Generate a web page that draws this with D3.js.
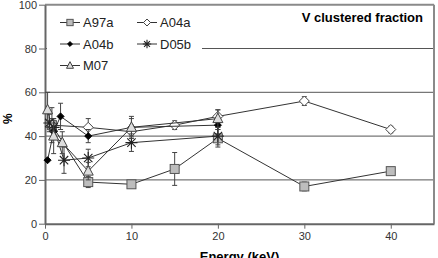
<!DOCTYPE html>
<html>
<head>
<meta charset="utf-8">
<script src="https://cdn.jsdelivr.net/npm/d3@7"></script>
<style>
  body { margin: 0; background: #fff; }
  svg { display: block; font-family: "Liberation Sans", Arial, sans-serif; }
</style>
</head>
<body>
<svg width="438" height="258"></svg>
<script>
// energies (keV), values (%), error half-widths
var eA97a = [0.8, 5, 10, 15, 20, 30, 40];
var vA97a = [45, 19, 18, 25, 39, 17, 24];
var errA97a = [8, 2.5, 1.5, 7.5, 4, 2, 0];

var eA04a = [0.8, 5, 10, 15, 20, 30, 40];
var vA04a = [45, 44, 42, 45, 49, 56, 43];
var errA04a = [3, 4, 3, 2, 3, 2, 1.5];

var eA04b = [0.3, 1, 1.8, 5, 10, 20];
var vA04b = [29, 42, 49, 40, 44, 45];
var errA04b = [0, 3, 6, 3, 4, 2];

var eD05b = [0.5, 1, 2.2, 5, 10, 20];
var vD05b = [46, 44, 29, 30, 37, 40];
var errD05b = [4, 4, 6, 4, 4, 4];

var eM07 = [0.3, 1, 2, 5, 10, 20];
var vM07 = [52, 40, 37, 24, 44, 48];
var errM07 = [8, 8, 5, 4, 5, 4];

var xTicks = [0, 10, 20, 30, 40];
var yTicks = [0, 20, 40, 60, 80, 100];
var gridVals = [20, 40, 60, 80];

var svg = d3.select("svg");
var plotL = 45, plotR = 434, plotT = 4.7, plotB = 223.7;

var x = d3.scaleLinear().domain([0, 45]).range([plotL, plotR]);
var y = d3.scaleLinear().domain([0, 100]).range([plotB, plotT]);

function zip(e, v, err) {
  return e.map(function(d, i) { return {x: d, y: v[i], err: err[i]}; });
}

var series = [
  {name: "A97a", data: zip(eA97a, vA97a, errA97a), sym: "square"},
  {name: "A04a", data: zip(eA04a, vA04a, errA04a), sym: "diamond"},
  {name: "A04b", data: zip(eA04b, vA04b, errA04b), sym: "dot"},
  {name: "D05b", data: zip(eD05b, vD05b, errD05b), sym: "star"},
  {name: "M07", data: zip(eM07, vM07, errM07), sym: "triangle"}
];

// gridlines
svg.append("g").selectAll("line").data(gridVals).enter().append("line")
  .attr("x1", plotL).attr("x2", plotR)
  .attr("y1", function(d) { return y(d); }).attr("y2", function(d) { return y(d); })
  .attr("stroke", "#555").attr("stroke-width", 1);

// frame top/right
svg.append("line").attr("x1", plotL).attr("x2", plotR).attr("y1", plotT).attr("y2", plotT)
  .attr("stroke", "#8a8a8a").attr("stroke-width", 2);
svg.append("line").attr("x1", plotR).attr("x2", plotR).attr("y1", plotT).attr("y2", plotB)
  .attr("stroke", "#8a8a8a").attr("stroke-width", 2);

// axes
var xAxis = svg.append("g")
  .attr("transform", "translate(0," + plotB + ")")
  .call(d3.axisBottom(x).tickValues(xTicks).tickSize(5).tickSizeOuter(0));
var yAxis = svg.append("g")
  .attr("transform", "translate(" + plotL + ",0)")
  .call(d3.axisLeft(y).tickValues(yTicks).tickSize(6).tickSizeOuter(0));
[xAxis, yAxis].forEach(function(a) {
  a.select(".domain").attr("stroke", "#666").attr("stroke-width", 2);
  a.selectAll(".tick line").attr("stroke", "#666");
  a.selectAll(".tick text").attr("fill", "#333").style("font-size", "11px")
    .style("font-family", "Liberation Sans, Arial, sans-serif");
});
yAxis.selectAll(".tick text").attr("x", -8);
xAxis.selectAll(".tick text").attr("y", 9);

// axis titles
svg.append("text")
  .attr("transform", "translate(12," + y(48) + ") rotate(-90)")
  .attr("text-anchor", "middle")
  .attr("font-weight", "bold").attr("font-size", 12)
  .text("%");
svg.append("text")
  .attr("x", x(22.5)).attr("y", 261)
  .attr("text-anchor", "middle")
  .attr("font-weight", "bold").attr("font-size", 13)
  .text("Energy (keV)");

// legend background
svg.append("rect").attr("x", 47).attr("y", 6).attr("width", 155).attr("height", 70)
  .attr("fill", "#fff");

var line = d3.line().x(function(d) { return x(d.x); }).y(function(d) { return y(d.y); });

function drawSymbol(g, sym, cx, cy, k) {
  k = k || 1;
  if (sym === "square") {
    g.append("rect").attr("x", cx - 4.5 * k).attr("y", cy - 4.5 * k).attr("width", 9 * k).attr("height", 9 * k)
      .attr("fill", "#bdbdbd").attr("stroke", "#555").attr("stroke-width", 1);
  } else if (sym === "diamond") {
    var a = 5 * k;
    g.append("path").attr("d", "M" + cx + "," + (cy - a) + "L" + (cx + a) + "," + cy + "L" + cx + "," + (cy + a) + "L" + (cx - a) + "," + cy + "Z")
      .attr("fill", "#fff").attr("stroke", "#444").attr("stroke-width", 1);
  } else if (sym === "dot") {
    var b = 3.5 * k;
    g.append("path").attr("d", "M" + cx + "," + (cy - b) + "L" + (cx + b) + "," + cy + "L" + cx + "," + (cy + b) + "L" + (cx - b) + "," + cy + "Z")
      .attr("fill", "#000").attr("stroke", "#000");
  } else if (sym === "star") {
    var r = 6 * k;
    var d = "M" + (cx - r) + "," + cy + "L" + (cx + r) + "," + cy +
      "M" + (cx - r * 0.7) + "," + (cy - r * 0.7) + "L" + (cx + r * 0.7) + "," + (cy + r * 0.7) +
      "M" + (cx - r * 0.7) + "," + (cy + r * 0.7) + "L" + (cx + r * 0.7) + "," + (cy - r * 0.7) +
      "M" + cx + "," + (cy - r) + "L" + cx + "," + (cy + r);
    g.append("path").attr("d", d).attr("stroke", "#222").attr("stroke-width", 1.1).attr("fill", "none");
  } else if (sym === "triangle") {
    g.append("path").attr("d", "M" + cx + "," + (cy - 5.5 * k) + "L" + (cx + 5 * k) + "," + (cy + 4 * k) + "L" + (cx - 5 * k) + "," + (cy + 4 * k) + "Z")
      .attr("fill", "#ddd").attr("stroke", "#444").attr("stroke-width", 1);
  }
}

series.forEach(function(s) {
  var g = svg.append("g");
  g.append("path").datum(s.data).attr("d", line)
    .attr("fill", "none").attr("stroke", "#333").attr("stroke-width", 1);
  s.data.forEach(function(d) {
    if (d.err > 0) {
      var xx = x(d.x);
      g.append("line").attr("x1", xx).attr("x2", xx)
        .attr("y1", y(d.y - d.err)).attr("y2", y(d.y + d.err))
        .attr("stroke", "#444").attr("stroke-width", 1);
      [d.y - d.err, d.y + d.err].forEach(function(v) {
        g.append("line").attr("x1", xx - 2.5).attr("x2", xx + 2.5)
          .attr("y1", y(v)).attr("y2", y(v))
          .attr("stroke", "#444").attr("stroke-width", 1);
      });
    }
  });
  s.data.forEach(function(d) { drawSymbol(g, s.sym, x(d.x), y(d.y)); });
});

// legend
var legPos = [[60, 22.5], [137, 22.5], [60, 44], [137, 44], [60, 65.5]];
series.forEach(function(s, i) {
  var p = legPos[i];
  var g = svg.append("g");
  g.append("line").attr("x1", p[0]).attr("x2", p[0] + 20).attr("y1", p[1]).attr("y2", p[1])
    .attr("stroke", "#333").attr("stroke-width", 1);
  drawSymbol(g, s.sym, p[0] + 10, p[1], 0.7);
  g.append("text").attr("x", p[0] + 23).attr("y", p[1]).attr("dy", "0.36em")
    .attr("font-size", 13).attr("fill", "#222").text(s.name);
});

// title
svg.append("text").attr("x", 423).attr("y", 17).attr("dy", "0.36em")
  .attr("text-anchor", "end").attr("font-weight", "bold").attr("font-size", 13)
  .text("V clustered fraction");
</script>
</body>
</html>
